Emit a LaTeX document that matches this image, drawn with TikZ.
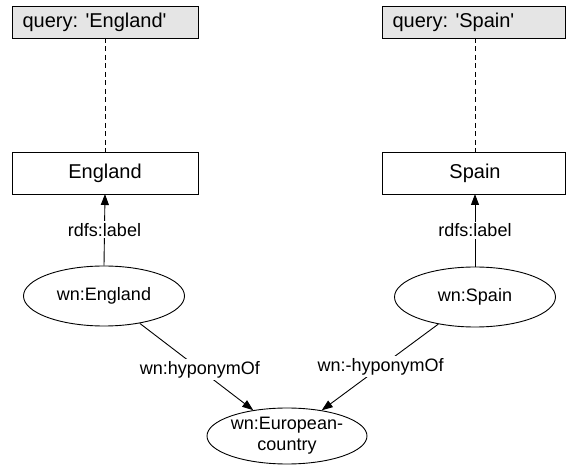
\documentclass[tikz,border=0pt]{standalone}
\usepackage{fontspec}
\setmainfont{Liberation Sans}
\usetikzlibrary{arrows.meta,shapes.geometric}
\begin{document}
\begin{tikzpicture}[x=1pt,y=-1pt,
  qbox/.style={draw,fill=black!10,line width=0.9pt,inner sep=0pt},
  vbox/.style={draw,fill=white,line width=0.9pt,inner sep=0pt},
  res/.style={draw,ellipse,line width=0.9pt,inner sep=0pt,minimum width=161pt,minimum height=60pt,font=\fontsize{18}{21}\selectfont},
  elab/.style={fill=white,inner sep=2pt,font=\fontsize{18}{21}\selectfont},
  btxt/.style={font=\fontsize{20}{23}\selectfont},
  rel/.style={line width=0.9pt,-{Triangle[length=11pt,width=8pt]}},
  dsh/.style={line width=0.9pt,dash pattern=on 5pt off 3.5pt}]
\useasboundingbox (0,0) rectangle (566,465);
% query boxes
\draw[qbox] (12,6) rectangle (198,38);
\node[btxt,anchor=west] (qE) at (19,22) {query: \textquotesingle England\textquotesingle};
\coordinate (qEb) at (105,38);
\draw[qbox] (382,6) rectangle (565.5,38);
\node[btxt,anchor=west] (qS) at (389,22) {query: \textquotesingle Spain\textquotesingle};
\coordinate (qSb) at (475,38);
% literal boxes
\draw[vbox] (12,152) rectangle (198,194);
\node[btxt] (lE) at (105,173) {England};
\coordinate (lEt) at (105,152);
\coordinate (lEb) at (105,194);
\draw[vbox] (382,152) rectangle (565.5,194);
\node[btxt] (lS) at (475,173) {Spain};
\coordinate (lSt) at (475,152);
\coordinate (lSb) at (475,194);
% resources
\node[res] (wE) at (104,296) {wn:England};
\node[res] (wS) at (475,297) {wn:Spain};
\node[res,minimum width=160pt,minimum height=56pt,align=center] (wC) at (287,436) {wn:European-\\country};
% connectors
\draw[dsh] (qEb) -- (lEt);
\draw[dsh] (qSb) -- (lSt);
\draw[rel] (wE.north) -- (lEb) node[elab,midway] {rdfs:label};
\draw[rel] (wS.north) -- (lSb) node[elab,midway] {rdfs:label};
\draw[rel] (wE) -- (wC) node[elab,pos=0.53] {wn:hyponymOf};
\draw[rel] (wS) -- (wC) node[elab,pos=0.495] {wn:-hyponymOf};
\end{tikzpicture}
\end{document}
